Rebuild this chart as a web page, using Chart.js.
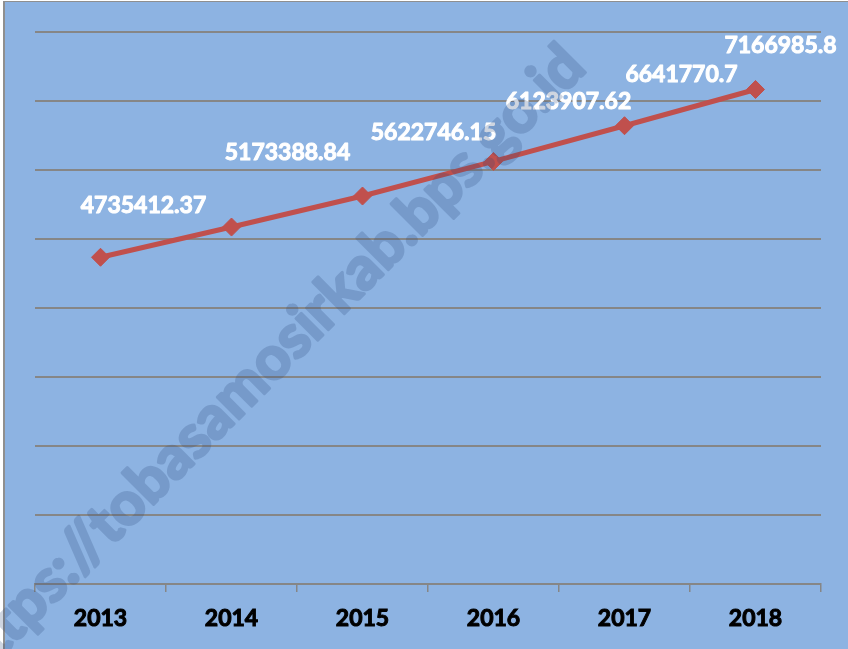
<!DOCTYPE html>
<html>
<head>
<meta charset="utf-8">
<script src="https://cdn.jsdelivr.net/npm/chart.js@4/dist/chart.umd.min.js"></script>
<style>
  html, body { margin: 0; padding: 0; background: #fff; }
  canvas { display: block; }
</style>
</head>
<body>
<canvas id="trendChart" width="848" height="649"></canvas>
<script>
// Series
const years = ['2013', '2014', '2015', '2016', '2017', '2018'];
const totals = [4735412.37, 5173388.84, 5622746.15, 6123907.62, 6641770.7, 7166985.8];

// Value axis (labels hidden, gridlines only)
const yMin = 0;
const yMax = 8000000;
const yStep = 1000000;

// Where each value label sits relative to its point (px)
const labelShift = [[43, -52], [56, -74], [71, -63], [75, -60], [57, -51], [25, -44]];

const watermark = 'https://tobasamosirkab.bps.go.id';

const plotBg = '#8DB3E2';
const gridGray = '#868686';
const lineRed = '#C0504D';

// Frame and blue fill behind everything
const backdrop = {
    id: 'backdrop',
    beforeDraw(chart) {
        const { ctx, width, height } = chart;
        ctx.save();
        ctx.fillStyle = '#ffffff';
        ctx.fillRect(0, 0, width, height);
        ctx.fillStyle = '#8f8f8f';
        ctx.fillRect(3, 1, width - 3, height - 1);
        ctx.fillStyle = plotBg;
        ctx.fillRect(5, 2, width - 5, height - 2);
        ctx.restore();
    }
};

// Value labels next to each point
const valueLabels = {
    id: 'valueLabels',
    afterDatasetsDraw(chart) {
        const { ctx } = chart;
        const points = chart.getDatasetMeta(0).data;
        ctx.save();
        ctx.font = 'bold 23px Lato';
        ctx.fillStyle = '#ffffff';
        ctx.strokeStyle = '#ffffff';
        ctx.lineWidth = 1;
        ctx.lineJoin = 'round';
        ctx.textAlign = 'center';
        ctx.textBaseline = 'middle';
        points.forEach((pt, i) => {
            const [dx, dy] = labelShift[i];
            const txt = String(totals[i]);
            ctx.strokeText(txt, pt.x + dx, pt.y + dy);
            ctx.fillText(txt, pt.x + dx, pt.y + dy);
        });
        ctx.restore();
    }
};

// Diagonal site stamp across the chart; drawn solid on a scratch canvas,
// then laid over at low opacity so the heavier outline doesn't double up
const stamp = {
    id: 'stamp',
    afterDraw(chart) {
        const { ctx, width, height } = chart;
        const off = document.createElement('canvas');
        off.width = width;
        off.height = height;
        const o = off.getContext('2d');
        o.font = 'bold 60px Lato';
        const squeeze = 867 / o.measureText(watermark).width;
        o.translate(588, 70);
        o.rotate(-Math.PI / 4);
        o.scale(squeeze, 1);
        o.textAlign = 'right';
        o.textBaseline = 'alphabetic';
        o.fillStyle = 'rgb(40, 70, 120)';
        o.strokeStyle = 'rgb(40, 70, 120)';
        o.lineWidth = 3;
        o.lineJoin = 'round';
        o.strokeText(watermark, 0, 0);
        o.fillText(watermark, 0, 0);
        ctx.save();
        ctx.globalAlpha = 0.22;
        ctx.drawImage(off, 0, 0);
        ctx.restore();
    }
};

new Chart(document.getElementById('trendChart'), {
    type: 'line',
    data: {
        labels: years,
        datasets: [{
            data: totals,
            borderColor: lineRed,
            borderWidth: 5,
            tension: 0,
            pointStyle: 'rectRot',
            pointRadius: 9,
            pointBackgroundColor: lineRed,
            pointBorderColor: lineRed,
            pointBorderWidth: 1
        }]
    },
    options: {
        responsive: false,
        animation: false,
        devicePixelRatio: 1,
        layout: { padding: { left: 35, right: 27, top: 32, bottom: 0 } },
        plugins: {
            legend: { display: false },
            tooltip: { enabled: false }
        },
        scales: {
            x: {
                offset: true,
                grid: {
                    offset: true,
                    drawOnChartArea: false,
                    drawTicks: true,
                    tickLength: 8,
                    color: gridGray,
                    lineWidth: 1.5
                },
                border: { display: true, color: gridGray, width: 2 },
                ticks: {
                    color: '#000000',
                    font: { family: 'Lato', weight: 'bold', size: 23 },
                    textStrokeColor: '#000000',
                    textStrokeWidth: 1,
                    padding: 13,
                    maxRotation: 0
                },
                afterFit: s => { s.height = 65; }
            },
            y: {
                min: yMin,
                max: yMax,
                ticks: { display: false, stepSize: yStep },
                grid: { color: gridGray, lineWidth: 2, drawTicks: false },
                border: { display: false },
                afterFit: s => { s.width = 0; }
            }
        }
    },
    plugins: [backdrop, valueLabels, stamp]
});
</script>
</body>
</html>
